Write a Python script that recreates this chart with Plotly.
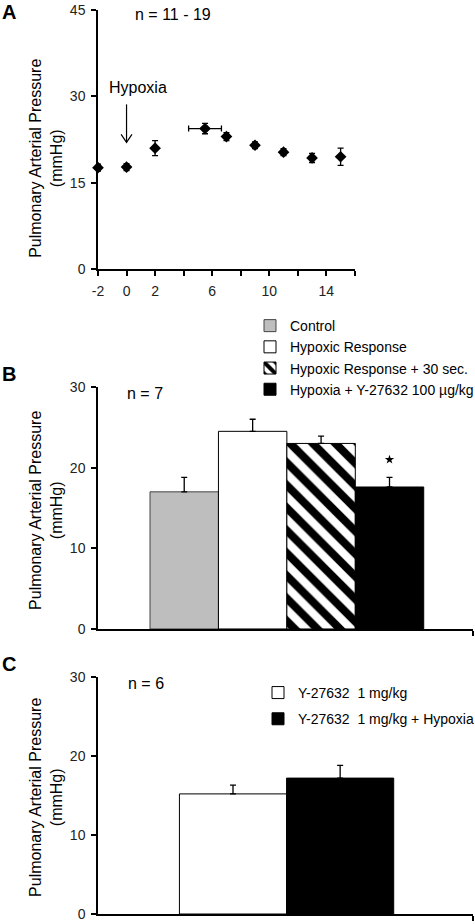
import plotly.graph_objects as go

FONT = "Arial, Liberation Sans, sans-serif"

# Panel A data
a_time = [-2, 0, 2, 5.5, 7, 9, 11, 13, 15]
a_mean = [17.6, 17.7, 21.0, 24.4, 23.0, 21.5, 20.3, 19.3, 19.5]
a_sem = [0.6, 0.6, 1.3, 0.9, 0.7, 0.6, 0.6, 0.8, 1.5]
a_xerr = [0, 0, 0, 1.15, 0, 0, 0, 0, 0]
a_xticks = [-2, 0, 2, 4, 6, 8, 10, 12, 14, 16]
a_xticktext = ["-2", "0", "2", "", "6", "", "10", "", "14", ""]
a_yticks = [0, 15, 30, 45]

# Panel B data
b_names = ["Control", "Hypoxic Response", "Hypoxic Response + 30 sec.",
           "Hypoxia + Y-27632 100 µg/kg"]
b_mean = [17.0, 24.5, 23.0, 17.6]
b_sem = [1.8, 1.5, 0.9, 1.2]
b_sig_y = [21.0]
bc_yticks = [0, 10, 20, 30]

# Panel C data
c_names = ["Y-27632  1 mg/kg", "Y-27632  1 mg/kg + Hypoxia"]
c_mean = [15.2, 17.2]
c_sem = [1.1, 1.6]

fig = go.Figure()

# ---- Panel A ----
fig.add_trace(go.Scatter(
    x=a_time, y=a_mean, mode="markers",
    marker=dict(symbol="diamond", size=9, color="black"),
    error_y=dict(type="data", array=a_sem, color="black", thickness=1.3, width=3),
    error_x=dict(type="data", array=a_xerr, color="black", thickness=1.3, width=3),
    cliponaxis=False, showlegend=False, xaxis="x", yaxis="y"))

# ---- Panel B ----
b_styles = [
    dict(color="#bebebe", line=dict(color="#444444", width=1)),
    dict(color="white", line=dict(color="black", width=1)),
    dict(color="white", line=dict(color="black", width=1),
         pattern=dict(shape="\\", size=16, solidity=0.5, fgcolor="black",
                      bgcolor="white", fgopacity=1)),
    dict(color="black", line=dict(color="black", width=1)),
]
for i, (n, m, s) in enumerate(zip(b_names, b_mean, b_sem)):
    fig.add_trace(go.Bar(
        x=[i], y=[m], width=1, name=n, marker=b_styles[i],
        error_y=dict(type="data", symmetric=False, array=[s], arrayminus=[0],
                     color="black", thickness=1.3, width=3),
        xaxis="x2", yaxis="y2", legend="legend"))
fig.add_trace(go.Scatter(
    x=[3], y=b_sig_y, mode="markers",
    marker=dict(symbol="star", size=7, color="black"),
    showlegend=False, xaxis="x2", yaxis="y2"))

# ---- Panel C ----
c_styles = [
    dict(color="white", line=dict(color="black", width=1)),
    dict(color="black", line=dict(color="black", width=1)),
]
for i, (n, m, s) in enumerate(zip(c_names, c_mean, c_sem)):
    fig.add_trace(go.Bar(
        x=[i], y=[m], width=1, name=n, marker=c_styles[i], legendgroup=f"c{i}",
        error_y=dict(type="data", symmetric=False, array=[s], arrayminus=[0],
                     color="black", thickness=1.3, width=3),
        xaxis="x3", yaxis="y3", legend="legend2"))

axis_common = dict(showline=True, linecolor="black", linewidth=1.5, showgrid=False,
                   zeroline=False, ticks="outside", ticklen=5, tickwidth=1.5,
                   tickcolor="black", tickfont=dict(family=FONT, size=14, color="#222222"),
                   ticklabelstandoff=3, automargin=False, ticklabeloverflow="allow")

dom_a = [0.7135, 1.0]
dom_b = [0.3153, 0.5830]
dom_c = [0.0, 0.2622]

fig.update_layout(
    width=475, height=924,
    margin=dict(l=98, r=2, t=10, b=10, autoexpand=False),
    paper_bgcolor="white", plot_bgcolor="white",
    font=dict(family=FONT, color="black"),
    barmode="overlay",
    xaxis=dict(axis_common, domain=[0, 0.685], anchor="y", range=[-2, 16],
               tickmode="array", tickvals=a_xticks, ticktext=a_xticktext),
    yaxis=dict(axis_common, domain=dom_a, anchor="x", range=[0, 45],
               tickmode="array", tickvals=a_yticks),
    xaxis2=dict(axis_common, domain=[0, 1], anchor="y2", range=[-1.26, 4.22],
                tickmode="array", tickvals=[4.22], ticktext=[""]),
    yaxis2=dict(axis_common, domain=dom_b, anchor="x2", range=[0, 30],
                tickmode="array", tickvals=bc_yticks),
    xaxis3=dict(axis_common, domain=[0, 1], anchor="y3", range=[-1.26, 2.24],
                tickmode="array", tickvals=[2.24], ticktext=[""]),
    yaxis3=dict(axis_common, domain=dom_c, anchor="x3", range=[0, 30],
                tickmode="array", tickvals=bc_yticks),
    legend=dict(x=1.016, y=0.6681, xanchor="right", yanchor="top",
                font=dict(family=FONT, size=14, color="black"),
                bgcolor="rgba(0,0,0,0)", itemwidth=30, tracegroupgap=0),
    legend2=dict(x=1.016, y=0.2622, xanchor="right", yanchor="top",
                 font=dict(family=FONT, size=14, color="black"),
                 bgcolor="rgba(0,0,0,0)", itemwidth=30, tracegroupgap=5,
                 traceorder="grouped"),
)

ytitle = "Pulmonary Arterial Pressure<br>(mmHg)"
annotations = []
for yc in [0.8363, 0.4469, 0.1294]:
    annotations.append(dict(text=ytitle, x=-0.139, y=yc, xref="paper", yref="paper",
                            xanchor="center", yanchor="middle", textangle=-90,
                            showarrow=False, font=dict(family=FONT, size=16, color="black")))
for lab, yc in [("A", 0.9983), ("B", 0.5973), ("C", 0.2760)]:
    annotations.append(dict(text=f"<b>{lab}</b>", x=-0.2613, y=yc, xref="paper", yref="paper",
                            xanchor="left", yanchor="middle", showarrow=False,
                            font=dict(family=FONT, size=20, color="black")))
for txt, xc, yc in [("n = 11 - 19", 0.2, 0.9945), ("n = 7", 0.124, 0.5763),
                    ("n = 6", 0.127, 0.2555)]:
    annotations.append(dict(text=txt, x=xc, y=yc, xref="paper", yref="paper",
                            xanchor="center", yanchor="middle", showarrow=False,
                            font=dict(family=FONT, size=16, color="black")))
annotations.append(dict(text="Hypoxia", x=0.107, y=0.9148, xref="paper", yref="paper",
                        xanchor="center", yanchor="middle", showarrow=False,
                        font=dict(family=FONT, size=16, color="black")))
fig.update_layout(annotations=annotations)

# Arrow pointing to hypoxia onset
fig.add_shape(type="line", x0=0, x1=0, y0=28.6, y1=22.0, xref="x", yref="y",
              line=dict(color="black", width=1.2))
fig.add_shape(type="path", path="M -0.38 23.4 L 0 22.0 L 0.38 23.4", xref="x", yref="y",
              line=dict(color="black", width=1.2))

fig.write_html("out.html", config={"displayModeBar": False},
               post_script="document.body.style.margin='0';document.body.style.padding='0';")
